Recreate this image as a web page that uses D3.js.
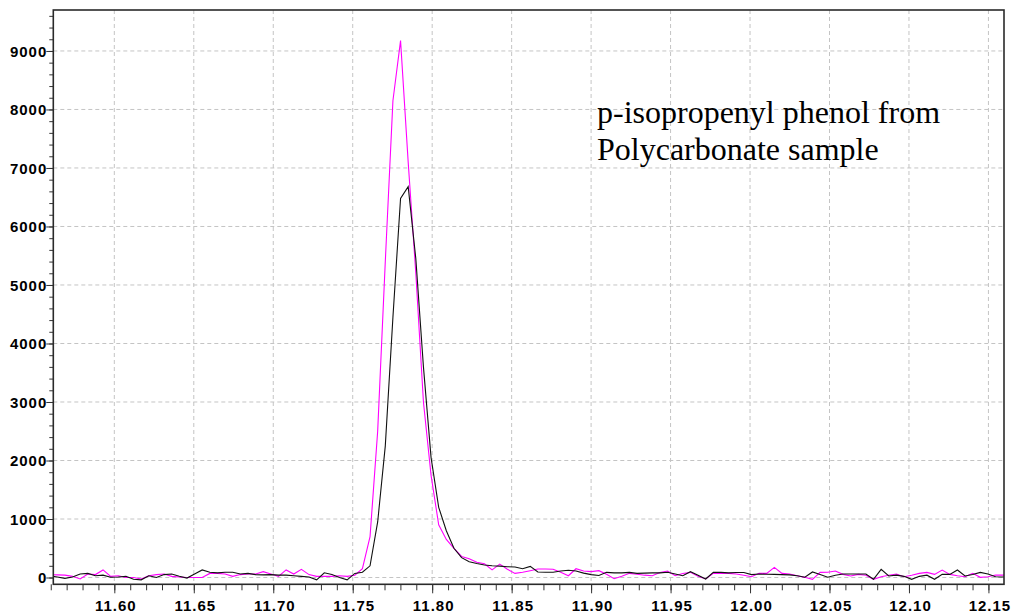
<!DOCTYPE html>
<html>
<head>
<meta charset="utf-8">
<script src="https://cdn.jsdelivr.net/npm/d3@7"></script>
<style>
    body { margin: 0; background: #fff; }
    .tick-label { font-family: Arial, "Liberation Sans", sans-serif; font-weight: bold; font-size: 15px; letter-spacing: 1px; fill: #000; }
    .note { font-family: "Times New Roman", "Liberation Serif", serif; font-size: 32px; fill: #000; }
</style>
</head>
<body>
<svg></svg>
<script>
// scan grid (min) - one scan every ~0.0048 min
let scanStart = 11.5593;
let scanStep = 0.0048;

// black trace (abundance per scan)
let blackTrace = [
    30, 10, -15, 10, 60, 70, 30, 40, 5, 10, 20, -30, -40, 30, 0, 50, 60, 20, -10, 60,
    130, 90, 80, 90, 90, 60, 70, 50, 45, 50, 40, 40, 30, 20, 10, -40, 80, 50, 0, -40,
    70, 90,
    200, 950, 2250, 4450, 6480, 6680, 5450, 3600, 2050, 1200, 800, 500, 340, 270,
    240, 215, 200, 195, 185, 180, 150, 190, 95, 90, 90, 110, 125, 110, 75, 50, 35, 88, 80, 80,
    88, 70, 75, 80, 80, 90, 60, 30, 100, 40, -25, 88, 88, 80, 85,
    85, 50, 60, 55, 54, 50, 45, 30, 5, 95, 50, 5, 40, 60, 60, 60, 60, -30, 140, 26,
    40, 20, -31, 20, 40, -31, 54, 54, 128, 26, 50, 88, 60, 14, 10, 10
];

// magenta trace
let magentaTrace = [
    50, 45, 40, 20, -25, 60, 50, 130, 20, 30, 0, 0, -25, 30, 50, 60, 20, 10, 0, 0,
    0, 70, 70, 60, 20, 50, 60, 60, 100, 60, 20, 130, 60, 140, 50, 20, 20, 20, 30, 20,
    40, 150,
    700, 2500, 5400, 8150, 9176, 7100, 5200, 3000, 1745, 900, 650, 500, 360, 320,
    260, 235, 130, 230, 140, 70, 90, 117, 145, 145, 140, 90, 30, 150, 110, 100, 117, 54, -20, 20,
    71, 55, 40, 30, 85, 110, 30, 70, 88, 20, -25, 71, 71, 71, 60,
    40, 14, 71, 70, 174, 71, 60, 30, 3, -31, 88, 90, 111, 54, 26, 54, 40, -31, 14, 40,
    60, 14, 40, 71, 88, 54, 128, 54, 30, 14, 71, 3, 14, 43, 40, 40
];

let xTickLabels = ["11.60", "11.65", "11.70", "11.75", "11.80", "11.85", "11.90", "11.95",
                   "12.00", "12.05", "12.10", "12.15"];
let yTickLabels = ["0", "1000", "2000", "3000", "4000", "5000", "6000", "7000", "8000", "9000"];
let noteLines = ["p-isopropenyl phenol from", "Polycarbonate sample"];

let width = 1015;
let height = 616;
let plot = { left: 53.3, right: 1004, top: 10, bottom: 584.3 };

let svg = d3.select("svg")
    .attr("width", width)
    .attr("height", height);

let x = d3.scaleLinear().domain([11.5616, 12.1598]).range([plot.left, plot.right]);
let y = d3.scaleLinear().domain([-116, 9700]).range([plot.bottom, plot.top]);

let times = d3.range(blackTrace.length).map(function(i) { return scanStart + i * scanStep; });

svg.append("defs").append("clipPath")
    .attr("id", "plot-clip")
    .append("rect")
    .attr("x", plot.left).attr("y", plot.top)
    .attr("width", plot.right - plot.left).attr("height", plot.bottom - plot.top);

// dashed grid
let grid = svg.append("g").attr("stroke", "#c4c4c4").attr("stroke-dasharray", "4,3").attr("stroke-width", 1);
grid.selectAll("line.gx")
    .data(xTickLabels)
    .enter().append("line")
    .attr("x1", function(d) { return x(+d); })
    .attr("x2", function(d) { return x(+d); })
    .attr("y1", plot.top).attr("y2", plot.bottom);
grid.selectAll("line.gy")
    .data(yTickLabels)
    .enter().append("line")
    .attr("y1", function(d) { return y(+d); })
    .attr("y2", function(d) { return y(+d); })
    .attr("x1", plot.left).attr("x2", plot.right);

// traces
let line = d3.line()
    .x(function(d) { return x(d[0]); })
    .y(function(d) { return y(d[1]); });

let traces = svg.append("g").attr("clip-path", "url(#plot-clip)");
traces.append("path")
    .datum(d3.zip(times, magentaTrace))
    .attr("fill", "none")
    .attr("stroke", "#ff00ff")
    .attr("stroke-width", 1.1)
    .attr("d", line);
traces.append("path")
    .datum(d3.zip(times, blackTrace))
    .attr("fill", "none")
    .attr("stroke", "#111")
    .attr("stroke-width", 1.1)
    .attr("d", line);

// axes: minor ticks without labels, then majors with labels
let xMinor = d3.axisBottom(x)
    .tickValues(d3.range(1156, 1216).map(function(v) { return v / 100; }))
    .tickSize(6).tickFormat("");
svg.append("g")
    .attr("transform", "translate(0," + plot.bottom + ")")
    .call(xMinor)
    .call(function(g) { g.select(".domain").remove(); g.selectAll("line").attr("stroke", "#333"); });

let xMajor = d3.axisBottom(x)
    .tickValues(xTickLabels.map(Number))
    .tickSize(9).tickPadding(6)
    .tickFormat(function(d) { return d.toFixed(2); });
svg.append("g")
    .attr("transform", "translate(0," + plot.bottom + ")")
    .call(xMajor)
    .call(function(g) {
        g.select(".domain").remove();
        g.selectAll("line").attr("stroke", "#333");
        g.selectAll("text").attr("class", "tick-label").attr("dy", "0.71em").attr("y", 16).attr("dx", 1);
    });

let yMinor = d3.axisLeft(y)
    .tickValues(d3.range(0, 9800, 200))
    .tickSize(4).tickFormat("");
svg.append("g")
    .attr("transform", "translate(" + plot.left + ",0)")
    .call(yMinor)
    .call(function(g) { g.select(".domain").remove(); g.selectAll("line").attr("stroke", "#333"); });

let yMajor = d3.axisLeft(y)
    .tickValues(yTickLabels.map(Number))
    .tickSize(7).tickPadding(0)
    .tickFormat(d3.format("d"));
svg.append("g")
    .attr("transform", "translate(" + plot.left + ",0)")
    .call(yMajor)
    .call(function(g) {
        g.select(".domain").remove();
        g.selectAll("line").attr("stroke", "#333");
        g.selectAll("text").attr("class", "tick-label").attr("x", -6).attr("dy", "0.36em");
    });

// frame
svg.append("rect")
    .attr("x", plot.left).attr("y", plot.top)
    .attr("width", plot.right - plot.left).attr("height", plot.bottom - plot.top)
    .attr("fill", "none")
    .attr("stroke", "#2a2a2a")
    .attr("stroke-width", 1.6);

// annotation
svg.append("g").selectAll("text")
    .data(noteLines)
    .enter().append("text")
    .attr("class", "note")
    .attr("x", 597)
    .attr("y", function(d, i) { return 123 + i * 37; })
    .text(function(d) { return d; });
</script>
</body>
</html>
